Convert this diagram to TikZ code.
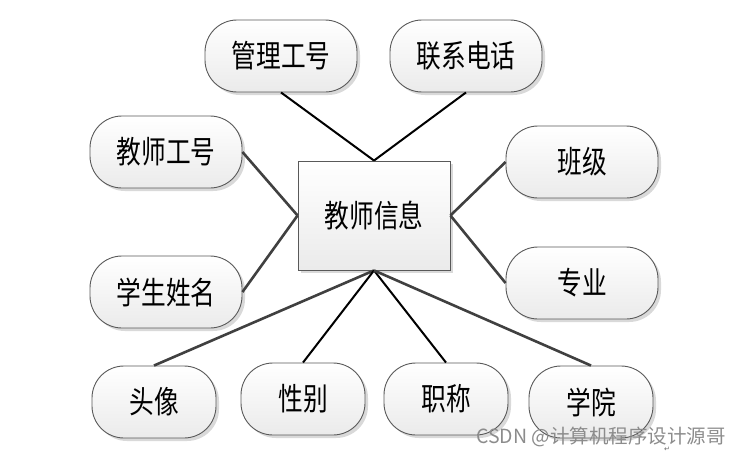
\documentclass[tikz,border=0pt]{standalone}
\usepackage{fontspec}
\newfontfamily\cjk{Noto Sans CJK SC}
\newfontfamily\dvs{DejaVu Sans}
\usetikzlibrary{shadows}
\tikzset{
  attr/.style={draw=black!65, line width=0.9pt, rounded corners=32pt, minimum width=152pt, minimum height=72pt,
    top color=white, bottom color=black!8, drop shadow={shadow xshift=3pt, shadow yshift=-3pt, fill=black!25, opacity=0.6}, inner sep=0pt},
  attrs/.style={attr, minimum width=124pt},
  ent/.style={draw=black!65, line width=0.9pt, minimum width=152pt, minimum height=109pt,
    top color=white, bottom color=black!8, drop shadow={shadow xshift=3pt, shadow yshift=-3pt, fill=black!25, opacity=0.6}, inner sep=0pt},
  blk/.style={line width=2pt, black},
  gry/.style={line width=2.6pt, black!75},
}
\newcommand{\lbl}[1]{\scalebox{0.95}[1.2]{\fontsize{26pt}{28pt}\cjk #1}}
\begin{document}
\begin{tikzpicture}[x=1pt,y=-1pt]
\useasboundingbox (0,0) rectangle (742,455);
\node[ent] (e) at (374,215.5) {\lbl{教师信息}};
\node[attr] (a1) at (281,56) {\lbl{管理工号}};
\node[attr] (a2) at (466,56) {\lbl{联系电话}};
\node[attr] (a3) at (166,152) {\lbl{教师工号}};
\node[attr] (a4) at (582,162) {\lbl{班级}};
\node[attr] (a5) at (166,292) {\lbl{学生姓名}};
\node[attr] (a6) at (582,283) {\lbl{专业}};
\node[attrs] (a7) at (154,402) {\lbl{头像}};
\node[attrs] (a8) at (303,399) {\lbl{性别}};
\node[attrs] (a9) at (446,399) {\lbl{职称}};
\node[attrs] (a10) at (591,402) {\lbl{学院}};
\coordinate (et) at (e.north);
\coordinate (eb) at (e.south);
\draw[blk] (a1.south) -- (et);
\draw[blk] (a2.south) -- (et);
\draw[gry] (a3.east) -- (e.west);
\draw[gry] (a5.east) -- (e.west);
\draw[gry] (a4.west) -- (e.east);
\draw[gry] (a6.west) -- (e.east);
\draw[gry] (eb) -- (a7.north);
\draw[blk] (eb) -- (a8.north);
\draw[blk] (eb) -- (a9.north);
\draw[gry] (eb) -- (a10.north);
\node[text=black!45, font=\fontsize{19.5pt}{21pt}\cjk, anchor=center] (wm) at (601,437) {CSDN @计算机程序设计源哥};
\node[text=black!60, font=\fontsize{7pt}{8pt}\dvs] (rm) at (667,449) {↵};
\end{tikzpicture}
\end{document}
